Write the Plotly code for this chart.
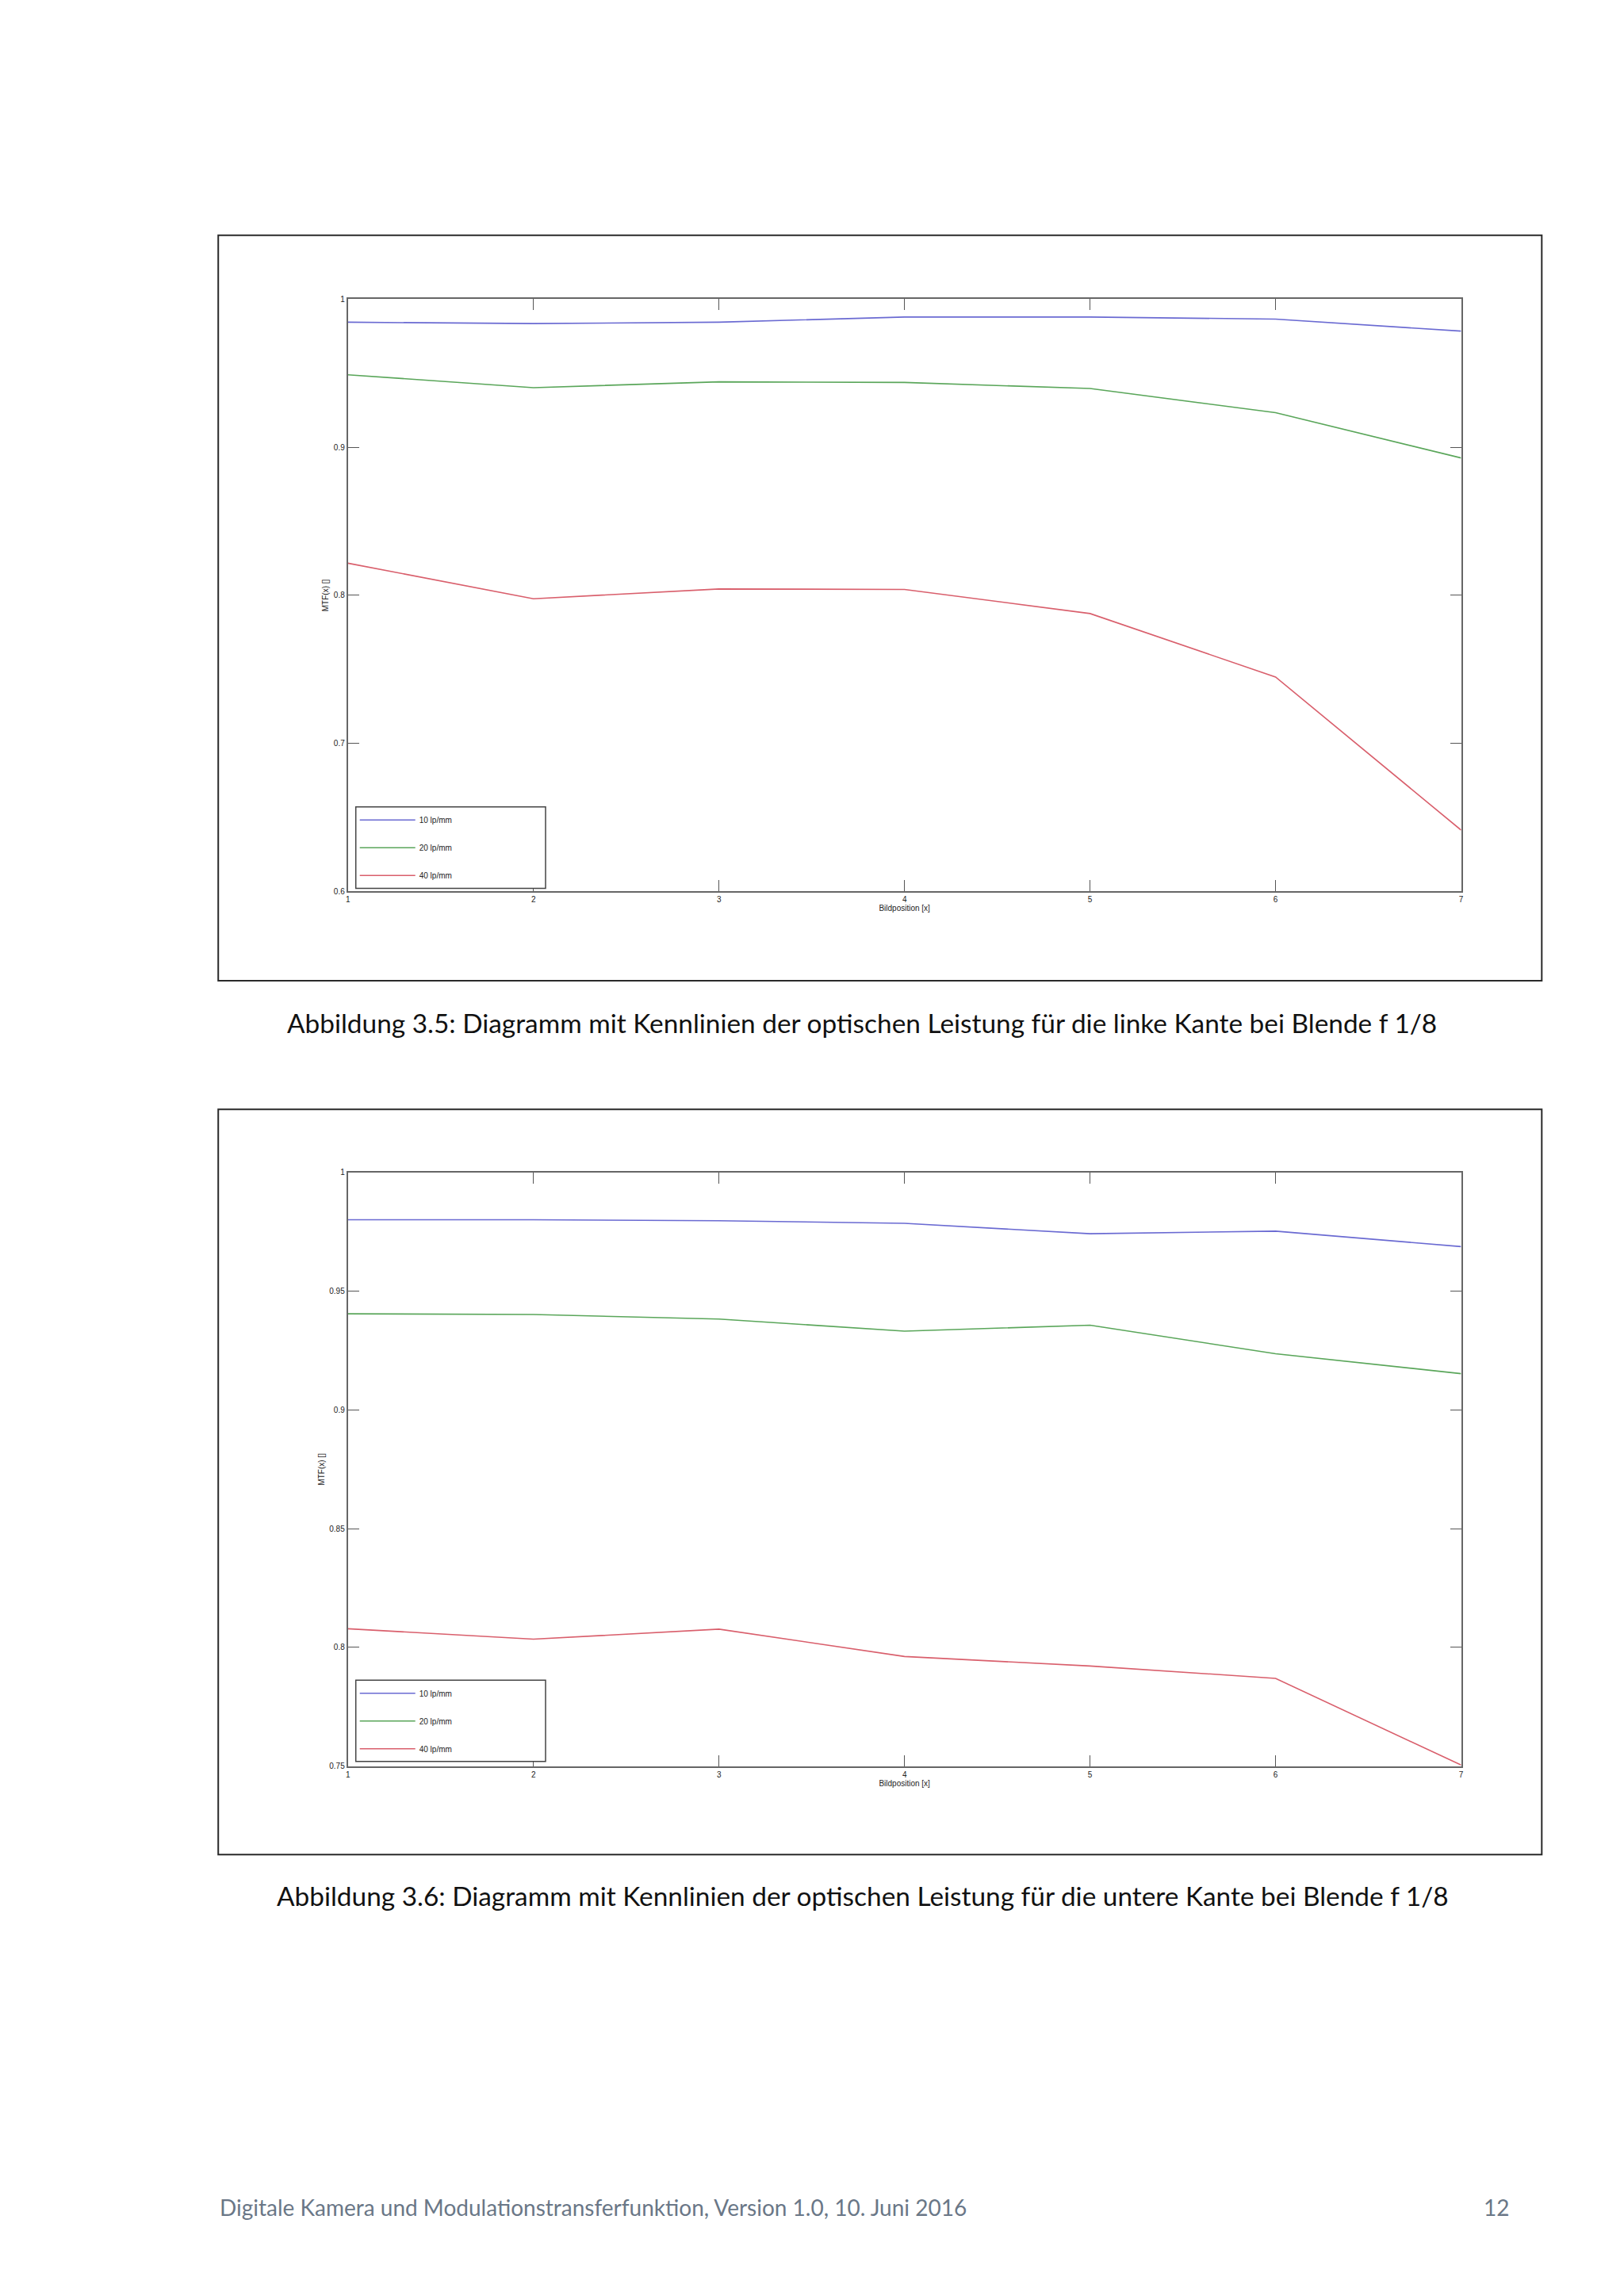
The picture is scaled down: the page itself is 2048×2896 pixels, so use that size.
import plotly.graph_objects as go

# ---- data ----
positions = [1, 2, 3, 4, 5, 6, 7]
series_names = ["10 lp/mm", "20 lp/mm", "40 lp/mm"]

# Abbildung 3.5 (linke Kante)
mtf_10_links = [0.9845, 0.9836, 0.9845, 0.9880, 0.9880, 0.9866, 0.9785]
mtf_20_links = [0.9490, 0.9403, 0.9442, 0.9438, 0.9397, 0.9234, 0.8928]
mtf_40_links = [0.8217, 0.7977, 0.8043, 0.8040, 0.7877, 0.7448, 0.6414]

# Abbildung 3.6 (untere Kante)
mtf_10_unten = [0.9801, 0.9801, 0.9797, 0.9786, 0.9742, 0.9753, 0.9688]
mtf_20_unten = [0.9405, 0.9402, 0.9383, 0.9332, 0.9357, 0.9237, 0.9153]
mtf_40_unten = [0.8079, 0.8035, 0.8077, 0.7962, 0.7922, 0.7870, 0.7505]

y1_ticks = [0.6, 0.7, 0.8, 0.9, 1.0]
y1_ticktext = ["0.6", "0.7", "0.8", "0.9", "1"]
y2_ticks = [0.75, 0.8, 0.85, 0.9, 0.95, 1.0]
y2_ticktext = ["0.75", "0.8", "0.85", "0.9", "0.95", "1"]
x_ticktext = ["1", "2", "3", "4", "5", "6", "7"]

x_title = "Bildposition [x]"
y_title = "MTF(x) []"
caption_1 = "Abbildung 3.5: Diagramm mit Kennlinien der optischen Leistung für die linke Kante bei Blende f 1/8"
caption_2 = "Abbildung 3.6: Diagramm mit Kennlinien der optischen Leistung für die untere Kante bei Blende f 1/8"
footer_left = "Digitale Kamera und Modulationstransferfunktion, Version 1.0, 10. Juni 2016"
footer_right = "12"

colors = ["#6a6ad2", "#5aa65a", "#d95f6c"]

# page is offset by the default 8px body margin
OFF = 8
W, H = 2048 - OFF, 2896 - OFF

def px_x(v):
    return (v - OFF) / W

def px_y(v):
    return 1 - (v - OFF) / H

fig = go.Figure()

sets = [
    ([mtf_10_links, mtf_20_links, mtf_40_links], "x", "y", "legend"),
    ([mtf_10_unten, mtf_20_unten, mtf_40_unten], "x2", "y2", "legend2"),
]
for vals, xa, ya, lg in sets:
    for i, (name, v) in enumerate(zip(series_names, vals)):
        fig.add_trace(go.Scatter(
            x=positions, y=v, mode="lines", name=name,
            line=dict(color=colors[i], width=1.6),
            xaxis=xa, yaxis=ya, legend=lg, legendgroup=f"{lg}_{i}",
            showlegend=True,
        ))

tick_font = dict(family="Liberation Sans, Arial, sans-serif", size=10, color="#222222")
axis_common = dict(
    showline=True, linecolor="#666666", linewidth=2, mirror="ticks",
    ticks="inside", ticklen=14, tickwidth=1, tickcolor="#555555",
    showgrid=False, zeroline=False, tickfont=tick_font,
)

leg_font = dict(family="Liberation Sans, Arial, sans-serif", size=10, color="#222222")
x_dom = [px_x(437), px_x(1845)]
fig.update_layout(
    width=W, height=H, autosize=False,
    margin=dict(l=0, r=0, t=0, b=0),
    paper_bgcolor="#ffffff", plot_bgcolor="#ffffff",
    showlegend=True,
    xaxis=dict(domain=x_dom, range=[1, 7], tickvals=positions, ticktext=x_ticktext,
               title=dict(text=x_title, font=tick_font, standoff=2), anchor="y", **axis_common),
    yaxis=dict(domain=[px_y(1123), px_y(373)], range=[0.6, 1.0], tickvals=y1_ticks, ticktext=y1_ticktext,
               title=dict(text=y_title, font=tick_font, standoff=4), anchor="x", **axis_common),
    xaxis2=dict(domain=x_dom, range=[1, 7], tickvals=positions, ticktext=x_ticktext,
                title=dict(text=x_title, font=tick_font, standoff=2), anchor="y2", **axis_common),
    yaxis2=dict(domain=[px_y(2231), px_y(1479)], range=[0.75, 1.0], tickvals=y2_ticks, ticktext=y2_ticktext,
                title=dict(text=y_title, font=tick_font, standoff=4), anchor="x2", **axis_common),
    legend=dict(x=px_x(447), y=px_y(1018), xanchor="left", yanchor="top",
                borderwidth=0, bgcolor="rgba(0,0,0,0)", font=leg_font,
                itemwidth=70, tracegroupgap=16),
    legend2=dict(x=px_x(447), y=px_y(2124), xanchor="left", yanchor="top",
                 borderwidth=0, bgcolor="rgba(0,0,0,0)", font=leg_font,
                 itemwidth=70, tracegroupgap=16),
)

# legend frames
for top, bottom in [(1016, 1119), (2122, 2225)]:
    fig.add_shape(type="rect", xref="paper", yref="paper",
                  x0=px_x(447), x1=px_x(687), y0=px_y(bottom), y1=px_y(top),
                  line=dict(color="#444444", width=1.5), fillcolor="#ffffff", layer="above")

# outer figure frames
for top, bottom in [(292, 1236), (1399, 2343)]:
    fig.add_shape(type="rect", xref="paper", yref="paper",
                  x0=px_x(273), x1=px_x(1947), y0=px_y(bottom), y1=px_y(top),
                  line=dict(color="#2a2a2a", width=2), fillcolor="rgba(0,0,0,0)", layer="below")

cap_font = dict(family="Lato, 'Open Sans', sans-serif", size=33.4, color="#111111")
fig.add_annotation(text=caption_1, xref="paper", yref="paper", x=px_x(1087), y=px_y(1289),
                   xanchor="center", yanchor="middle", showarrow=False, font=cap_font)
fig.add_annotation(text=caption_2, xref="paper", yref="paper", x=px_x(1088), y=px_y(2395),
                   xanchor="center", yanchor="middle", showarrow=False, font=cap_font)

foot_font = dict(family="Lato, 'Open Sans', sans-serif", size=28, color="#6a7787")
fig.add_annotation(text=footer_left, xref="paper", yref="paper", x=px_x(273), y=px_y(2790),
                   xanchor="left", yanchor="middle", showarrow=False, font=foot_font)
fig.add_annotation(text=footer_right, xref="paper", yref="paper", x=px_x(1908), y=px_y(2790),
                   xanchor="right", yanchor="middle", showarrow=False, font=foot_font)

fig.write_html("out.html")
